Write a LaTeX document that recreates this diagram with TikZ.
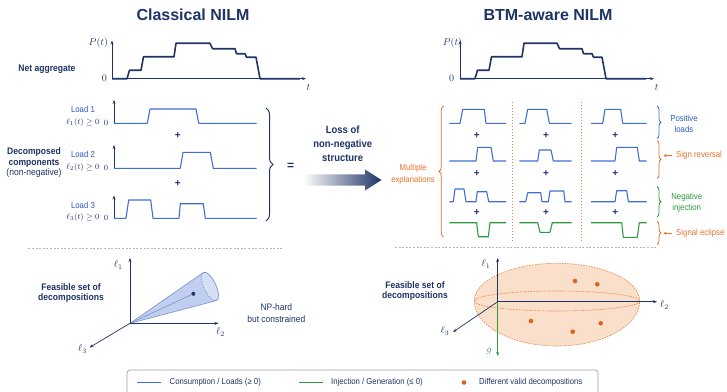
\documentclass[tikz,border=0pt]{standalone}
\usepackage{fontspec}
\setmainfont{Liberation Sans}[FakeStretch=0.9]
\newfontfamily\headfont{Liberation Sans}
\usetikzlibrary{arrows.meta,decorations.pathreplacing}
\definecolor{navy}{HTML}{1E3366}
\definecolor{sigblue}{HTML}{3F6FD4}
\definecolor{txtblue}{HTML}{2D5CC2}
\definecolor{sgreen}{HTML}{2E9B3E}
\definecolor{sorange}{HTML}{E8712D}
\definecolor{dorange}{HTML}{DD6418}
\definecolor{eggfill}{HTML}{F8D2B4}
\definecolor{conefill}{HTML}{BACAEE}
\definecolor{capfill}{HTML}{D5DFF6}
\definecolor{coneedge}{HTML}{7D90CF}
\definecolor{sepgrey}{HTML}{B4B4B4}
\begin{document}
\begin{tikzpicture}[x=1pt,y=-1pt,
  every node/.style={inner sep=0pt},
  title/.style={font=\headfont\fontsize{16}{19}\selectfont\bfseries,text=navy},
  lblb/.style={font=\fontsize{9.5}{10.5}\selectfont\bfseries,text=navy,align=center},
  lblr/.style={font=\fontsize{9.4}{12.6}\selectfont,text=navy,align=center},
  loadlbl/.style={font=\fontsize{8.7}{9}\selectfont,text=txtblue},
  mathlbl/.style={font=\fontsize{8.5}{10}\selectfont,text=navy},
  axlbl/.style={font=\fontsize{10}{12}\selectfont,text=navy},
  sidelbl/.style={font=\fontsize{8.7}{11}\selectfont,align=center},
  plus/.style={font=\headfont\fontsize{10}{12}\selectfont\bfseries,text=navy},
  axis/.style={draw=navy,line width=0.7pt,-{Stealth[length=4pt,width=3pt]}},
  netsig/.style={draw=navy,line width=1.6pt,line join=round},
  loadsig/.style={draw=sigblue,line width=1.1pt,line join=round},
  gensig/.style={draw=sgreen,line width=1.1pt,line join=round},
  colsep/.style={draw=sorange!85,line width=0.7pt,dash pattern=on 1.2pt off 1.8pt},
  groupsep/.style={draw=sepgrey,line width=0.7pt,dash pattern=on 2pt off 1.6pt},
  brc/.style={decorate,decoration={brace,amplitude=#1}},
  dot/.style={circle,fill=dorange,minimum size=4.6pt,inner sep=0pt}]
\useasboundingbox (0,0) rectangle (727,391);
\fill[white] (0,0) rectangle (727,391);

% ---------- titles ----------
\node[title] (tclassic) at (193,15) {Classical NILM};
\node[title] (tbtm) at (548,15) {BTM-aware NILM};

% ---------- net aggregate, classical ----------
\coordinate (ao) at (112,78.7);
\draw[axis] (ao) -- (112,40.5);
\draw[axis] (ao) -- (306,78.7);
\draw[netsig,shift={(ao)}] (0,0) -- (15,0) -- (17.5,-8.5) -- (29,-8.5) -- (31.5,-22) -- (62,-22)
  -- (64,-35.5) -- (98,-35.5) -- (100.5,-30) -- (123,-30) -- (124.5,-25) -- (133,-25)
  -- (134.5,-21.5) -- (144,-21.5) -- (148,0) -- (188,0);
\node[axlbl] (pl) at (98.3,43.3) {$P(t)$};
\node[axlbl] (zl) at (104.3,78.7) {$0$};
\node[axlbl] (tl) at (308.5,87.5) {$t$};
\node[lblb] (netlbl) at (47,69) {Net aggregate};

% ---------- net aggregate, BTM-aware ----------
\coordinate (bo) at (460,78.7);
\draw[axis] (bo) -- (460,40.5);
\draw[axis] (bo) -- (654,78.7);
\draw[netsig,shift={(bo)}] (0,0) -- (15,0) -- (17.5,-8.5) -- (29,-8.5) -- (31.5,-22) -- (62,-22)
  -- (64,-35.5) -- (97,-35.5) -- (99.5,-30) -- (122,-30) -- (123.5,-25) -- (132,-25)
  -- (133.5,-21.5) -- (142,-21.5) -- (146,0) -- (186,0);
\node[axlbl] (pr) at (452.5,43.3) {$P(t)$};
\node[axlbl] (zr) at (451.7,78.7) {$0$};
\node[axlbl] (tr) at (656.7,87) {$t$};

% ---------- decomposed components ----------
\node[lblb] (decomp) at (34,162.6) {Decomposed\\components\\{\mdseries(non-negative)}};

\draw[axis] (114,123.3) -- (114,100);
\draw[loadsig] (114,123.3) -- (147.3,123.3) -- (150,109) -- (196,109) -- (198.7,123.3) -- (256.7,123.3);
\node[loadlbl] (l1) at (83,109.5) {Load 1};
\node[mathlbl,anchor=east] (l1m) at (99.5,122.3) {$\ell_1(t)\geq 0$};
\node[mathlbl] (l1z) at (106,123.3) {$0$};
\node[plus] (pa) at (177.7,135.5) {+};

\draw[axis] (114,168.3) -- (114,145);
\draw[loadsig] (114,168.3) -- (180.3,168.3) -- (183,152.3) -- (210.3,152.3) -- (213.3,168.3) -- (256.7,168.3);
\node[loadlbl] (l2) at (83,154.5) {Load 2};
\node[mathlbl,anchor=east] (l2m) at (99.5,167.5) {$\ell_2(t)\geq 0$};
\node[mathlbl] (l2z) at (106,168.3) {$0$};
\node[plus] (pb) at (177.7,183.5) {+};

\draw[axis] (114,218.3) -- (114,195.5);
\draw[loadsig] (114,218.3) -- (126,218.3) -- (128.7,200) -- (150.7,200) -- (153,218.3) -- (179,218.3)
  -- (180.3,203.7) -- (203.3,203.7) -- (205.3,218.3) -- (256.7,218.3);
\node[loadlbl] (l3) at (83,205) {Load 3};
\node[mathlbl,anchor=east] (l3m) at (99.5,217.5) {$\ell_3(t)\geq 0$};
\node[mathlbl] (l3z) at (106,218.3) {$0$};

\draw[navy,line width=1pt,brc=7pt] (266,108) -- (266,221);
\node[font=\headfont\fontsize{12}{14}\selectfont\bfseries,text=navy] (eq) at (290.7,166.5) {=};

% ---------- loss of structure arrow ----------
\node[font=\fontsize{10.5}{13.8}\selectfont\bfseries,text=navy,align=center] (loss) at (342.7,143.8)
  {Loss of\\non-negative\\structure};
\shade[left color=white,middle color=navy!65,right color=navy]
  (303,174.3) -- (365,174.3) -- (365,169.5) -- (381.5,180) -- (365,190.5) -- (365,185.7) -- (303,185.7) -- cycle;
\node[sidelbl,text=sorange,font=\fontsize{8.6}{11.7}\selectfont] (multi) at (413,174) {Multiple\\explanations};
\draw[sorange,line width=0.8pt,brc=4.5pt] (443.5,237) -- (443.5,106);

% ---------- column separators ----------
\draw[colsep] (512.7,101.5) -- (512.7,240);
\draw[colsep] (581.7,101.5) -- (581.7,240);

% ---------- row 1: positive loads ----------
\draw[loadsig] (449.3,123.3) -- (460,123.3) -- (462.7,109.3) -- (484.3,109.3) -- (486,123.3) -- (506,123.3);
\draw[loadsig] (519.3,123.3) -- (525,123.3) -- (527.7,109.3) -- (546.7,109.3) -- (549.3,123.3) -- (571.7,123.3);
\draw[loadsig] (591,123.3) -- (602.7,123.3) -- (605,109.3) -- (620.7,109.3) -- (622.7,123.3) -- (646.7,123.3);
\node[plus] (p11) at (476.7,135.5) {+};
\node[plus] (p12) at (546,135.5) {+};
\node[plus] (p13) at (615.3,135.5) {+};

% ---------- row 2 ----------
\draw[loadsig] (449.3,161) -- (476,161) -- (477.7,147.3) -- (491,147.3) -- (493.3,161) -- (506,161);
\draw[loadsig] (519.3,161) -- (537.7,161) -- (539.3,150) -- (551,150) -- (553.3,161) -- (571.7,161);
\draw[loadsig] (591,161) -- (615,161) -- (616.7,147.3) -- (637.3,147.3) -- (639.3,161) -- (646.7,161);
\node[plus] (p21) at (476.7,173.8) {+};
\node[plus] (p22) at (546,173.8) {+};
\node[plus] (p23) at (615.3,173.8) {+};

% ---------- row 3 ----------
\draw[loadsig] (449.3,201.7) -- (453.3,201.7) -- (455,189) -- (464,189) -- (466,201.7) -- (476,201.7)
  -- (477.3,191.7) -- (486.7,191.7) -- (488.7,201.7) -- (506,201.7);
\draw[loadsig] (519.3,201.7) -- (525.7,201.7) -- (527.7,192.7) -- (540.7,192.7) -- (542,201.7) -- (548.3,201.7)
  -- (550,191) -- (563.7,191) -- (565,201.7) -- (571.7,201.7);
\draw[loadsig] (591,201.7) -- (615,201.7) -- (616.7,190.7) -- (626.7,190.7) -- (628.3,201.7) -- (646.7,201.7);
\node[plus] (p31) at (476.7,213) {+};
\node[plus] (p32) at (546,213) {+};
\node[plus] (p33) at (615.3,213) {+};

% ---------- row 4: injection ----------
\draw[gensig] (449.3,222.7) -- (476.7,222.7) -- (478.3,236.7) -- (488.3,236.7) -- (490,222.7) -- (506,222.7);
\draw[gensig] (519.3,222.7) -- (537.7,222.7) -- (540,232.3) -- (550,232.3) -- (552.3,222.7) -- (571.7,222.7);
\draw[gensig] (591,222.7) -- (621.7,222.7) -- (623.3,237.3) -- (637.3,237.3) -- (639.3,222.7) -- (646.7,222.7);

% ---------- side braces and labels ----------
\draw[sigblue,line width=0.8pt,brc=4pt] (657,106) -- (657,138.5);
\node[sidelbl,text=txtblue] (poslbl) at (684,123.6) {Positive\\loads};
\draw[sorange,line width=0.8pt,brc=4pt] (657,140.5) -- (657,178.5);
\coordinate (sra) at (671.5,155.7);
\coordinate (srb) at (663.5,155.7);
\draw[sorange,line width=0.8pt,-{Stealth[length=3pt,width=3pt]}] (sra) -- (srb);
\node[sidelbl,text=sorange,anchor=west] (signrev) at (676,155.7) {Sign reversal};
\draw[sgreen,line width=0.8pt,brc=4pt] (657,186.5) -- (657,217);
\node[sidelbl,text=sgreen] (neginj) at (686.7,202.8) {Negative\\injection};
\draw[sorange,line width=0.8pt,brc=4pt] (657,221.5) -- (657,244.5);
\coordinate (sea) at (671.5,233.3);
\coordinate (seb) at (663.5,233.3);
\draw[sorange,line width=0.8pt,-{Stealth[length=3pt,width=3pt]}] (sea) -- (seb);
\node[sidelbl,text=sorange,anchor=west] (signecl) at (676,233.3) {Signal eclipse};

% ---------- group separators ----------
\draw[groupsep] (28.3,248.5) -- (283.3,248.5);
\draw[groupsep] (395,247.5) -- (656.7,247.5);

% ---------- feasible set, classical ----------
\node[lblb] (feasl) at (71,293) {Feasible set of\\decompositions};
\coordinate (o3l) at (130,323.3);
\begin{scope}[shift={(210,286.5)},rotate=25]
  \coordinate (capc) at (0,0);
  \coordinate (capt) at (0,-15.5);
  \coordinate (capb) at (0,15.5);
\end{scope}
\fill[conefill,opacity=0.9] (o3l) -- (capt)
  [shift={(210,286.5)},rotate=25] arc[start angle=-90,end angle=90,x radius=6,y radius=15.5] -- cycle;
\begin{scope}[shift={(210,286.5)},rotate=25]
  \fill[capfill] (0,0) ellipse[x radius=6,y radius=15.5];
  \draw[coneedge,line width=0.6pt,dash pattern=on 1.5pt off 1.2pt] (0,15.5) arc[start angle=90,end angle=270,x radius=6,y radius=15.5];
  \draw[coneedge,line width=0.7pt] (0,-15.5) arc[start angle=-90,end angle=90,x radius=6,y radius=15.5];
\end{scope}
\draw[coneedge,line width=0.6pt] (o3l) -- (capt);
\draw[coneedge,line width=0.6pt] (o3l) -- (capb);
\node[circle,fill=navy,minimum size=4pt] (sol) at (193.3,293.8) {};
\draw[coneedge,line width=0.6pt] (o3l) -- (sol);
\draw[axis] (o3l) -- (130,258);
\draw[axis] (o3l) -- (218.5,323.3);
\draw[axis] (o3l) -- (89.5,347.5);
\node[axlbl] (l1a) at (118.3,265) {$\ell_1$};
\node[axlbl] (l2a) at (220.5,332) {$\ell_2$};
\node[axlbl] (l3a) at (82.5,349) {$\ell_3$};
\node[lblr] (nphard) at (276.3,313) {NP-hard\\but constrained};

% ---------- feasible set, BTM-aware ----------
\node[lblb] (feasr) at (415,291.2) {Feasible set of\\decompositions};
\coordinate (o3r) at (497.7,301.7);
\fill[eggfill,opacity=0.7] (474.3,301) arc[start angle=180,end angle=360,x radius=82.7,y radius=37.7]
  arc[start angle=0,end angle=180,x radius=82.7,y radius=45];
\draw[sorange!90,line width=0.6pt,dash pattern=on 1.5pt off 1.2pt]
  (474.3,301) arc[start angle=180,end angle=360,x radius=82.7,y radius=37.7]
  arc[start angle=0,end angle=180,x radius=82.7,y radius=45];
\draw[sorange!90,line width=0.6pt,dash pattern=on 1.5pt off 1.2pt] (557,301) ellipse[x radius=82.7,y radius=10];
\node[dot] (d1) at (575,281) {};
\node[dot] (d2) at (597.3,284.3) {};
\node[dot] (d3) at (531,321) {};
\node[dot] (d4) at (600.7,323.3) {};
\node[dot] (d5) at (572.7,331.7) {};
\draw[axis] (o3r) -- (497.7,258);
\draw[axis] (o3r) -- (657,301.7);
\draw[axis] (o3r) -- (453,332);
\draw[axis,draw=sgreen] (o3r) -- (497.7,356);
\node[axlbl] (r1a) at (486,264) {$\ell_1$};
\node[axlbl] (r2a) at (664.5,305) {$\ell_2$};
\node[axlbl] (r3a) at (445,331) {$\ell_3$};
\node[axlbl,text=sgreen] (rga) at (489.3,351.5) {$g$};

% ---------- legend ----------
\draw[draw=gray!75,fill=white,line width=0.7pt,rounded corners=3pt] (127,370) rectangle (598,398);
\coordinate (lga) at (137,382.5);
\coordinate (lgb) at (161,382.5);
\draw[sigblue,line width=1.6pt] (lga) -- (lgb);
\node[font=\fontsize{8.6}{9}\selectfont,text=navy,anchor=west] (lgt1) at (169.5,382.5) {Consumption / Loads (≥ 0)};
\coordinate (lgc) at (299,382.5);
\coordinate (lgd) at (323,382.5);
\draw[sgreen,line width=1.6pt] (lgc) -- (lgd);
\node[font=\fontsize{8.6}{9}\selectfont,text=navy,anchor=west] (lgt2) at (331,382.5) {Injection / Generation (≤ 0)};
\node[dot] (lgdot) at (464,382.5) {};
\node[font=\fontsize{8.6}{9}\selectfont,text=navy,anchor=west] (lgt3) at (479,382.5) {Different valid decompositions};
\end{tikzpicture}
\end{document}
